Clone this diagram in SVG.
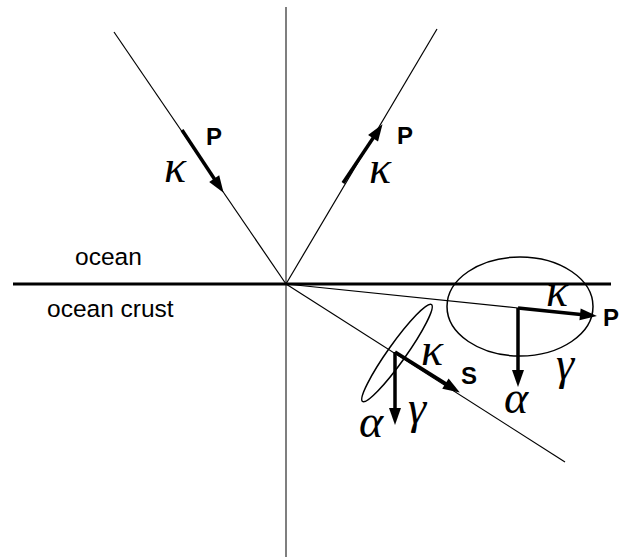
<svg xmlns="http://www.w3.org/2000/svg" width="625" height="557" viewBox="0 0 625 557">
<style>
.thin{stroke:#000;stroke-width:1.2;fill:none}
.thick{stroke:#000;stroke-width:3.5;fill:none;marker-end:url(#ah)}
.ell{stroke:#000;stroke-width:1.5;fill:none}
.lbl{font-family:"Liberation Sans",Arial,sans-serif;font-size:24.5px;fill:#000}
.bold{font-family:"Liberation Sans",Arial,sans-serif;font-size:24px;font-weight:bold;fill:#000}
.gk{font-family:"Liberation Serif","Times New Roman",serif;font-style:italic;font-size:46px;fill:#000}
</style>
<defs>
<marker id="ah" markerUnits="userSpaceOnUse" markerWidth="18" markerHeight="14" refX="8" refY="6" orient="auto" overflow="visible">
<path d="M0,0 L17,6 L0,12 z" fill="#000"/>
</marker>
</defs>
<g id="connectors">
<line x1="286" y1="7" x2="286" y2="557" stroke="#555" stroke-width="1.5"/>
<line x1="13" y1="284" x2="611" y2="284" stroke="#000" stroke-width="3"/>
<line class="thin" x1="114" y1="32" x2="286" y2="284"/>
<line class="thin" x1="286" y1="284" x2="437" y2="29"/>
<line class="thin" x1="286" y1="284" x2="565" y2="462"/>
<line class="thin" x1="286" y1="284" x2="518" y2="308"/>
</g>
<g id="incident">
<line class="thick" x1="182" y1="130" x2="218.6" y2="185.3"/>
<text class="bold" x="206" y="145">P</text>
<text class="gk" x="164" y="182">κ</text>
</g>
<g id="reflected">
<line class="thick" x1="343" y1="183" x2="377.5" y2="131.6"/>
<text class="bold" x="397" y="144">P</text>
<text class="gk" x="369" y="183">κ</text>
</g>
<g id="labels">
<text class="lbl" x="75" y="265">ocean</text>
<text class="lbl" x="47" y="317">ocean crust</text>
</g>
<g id="transmittedP">
<ellipse class="ell" cx="520" cy="306.5" rx="73" ry="49.5"/>
<line class="thick" x1="518" y1="308" x2="588" y2="315.2"/>
<line class="thick" x1="518" y1="308" x2="518" y2="378"/>
<text class="bold" x="603" y="326">P</text>
<text class="gk" x="546" y="306">κ</text>
<text class="gk" x="556" y="379">γ</text>
<text class="gk" x="504" y="413">α</text>
</g>
<g id="transmittedS">
<ellipse class="ell" cx="397" cy="353" rx="59.5" ry="9" transform="rotate(-54.6 397 353)"/>
<line class="thick" x1="395" y1="352" x2="452.2" y2="387.8"/>
<line class="thick" x1="395" y1="352" x2="395" y2="416"/>
<text class="bold" x="461" y="384">S</text>
<text class="gk" x="421" y="365">κ</text>
<text class="gk" x="408" y="423">γ</text>
<text class="gk" x="359" y="437">α</text>
</g>
</svg>
